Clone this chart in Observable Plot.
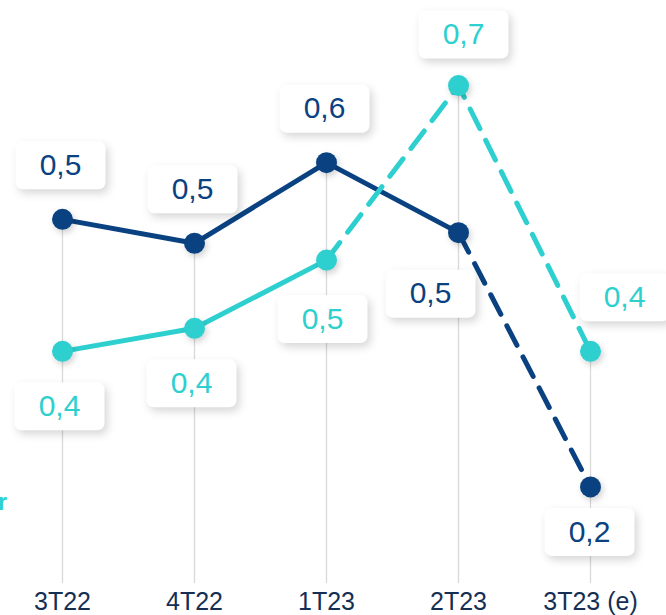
<!DOCTYPE html>
<html>
<head>
<meta charset="utf-8">
<script src="https://cdn.jsdelivr.net/npm/d3@7"></script>
<script src="https://cdn.jsdelivr.net/npm/@observablehq/plot@0.6"></script>
<style>
  html, body { margin: 0; padding: 0; background: #fff; }
  #wrap { position: relative; width: 666px; height: 615px; overflow: hidden; font-family: "Liberation Sans", Arial, sans-serif; }
  #frag { position: absolute; left: -2px; top: 489px; font-size: 23px; font-weight: bold; color: #2ecfcf; }
  g[aria-description="box"] path { filter: drop-shadow(3px 4px 4px rgba(0,0,0,0.16)); }
  g[aria-description="pts"] circle { filter: drop-shadow(2px 3px 3px rgba(0,0,0,0.18)); }
</style>
</head>
<body>
<div id="wrap"><div id="frag">r</div></div>
<script>
// ---- data ----
const quarters = ["3T22", "4T22", "1T23", "2T23", "3T23 (e)"];
const navyValues = [0.549, 0.522, 0.613, 0.534, 0.247];
const turqValues = [0.400, 0.426, 0.503, 0.700, 0.400];
const navyLabels = ["0,5", "0,5", "0,6", "0,5", "0,2"];
const turqLabels = ["0,4", "0,4", "0,5", "0,7", "0,4"];
const navyDashFrom = 3;   // index where estimated/dashed segment starts
const turqDashFrom = 2;

// ---- styling ----
const NAVY = "#0a4281", TURQ = "#2ecfcf", TICK = "#152f54", GRID = "#d9d9d9";
const yMin = 0.138, yMax = 0.796;

const rows = (vals, labels, series) => quarters.map((q, i) => ({q, v: vals[i], label: labels[i], series, i}));
const navyRows = rows(navyValues, navyLabels, "navy");
const turqRows = rows(turqValues, turqLabels, "turq");

// label placement (offsets in px relative to the point)
const place = {
  navy: i => i < 3 ? [-2, -54] : i === 3 ? [-28, 61] : [-1, 45],
  turq: i => i < 2 ? [-3, 55] : i === 2 ? [-4, 59] : i === 3 ? [5, -51] : [34, -54]
};

const roundBox = {
  draw(ctx) {
    const w = 45, h = 24, r = 7;
    ctx.moveTo(-w + r, -h);
    ctx.lineTo(w - r, -h); ctx.arcTo(w, -h, w, -h + r, r);
    ctx.lineTo(w, h - r); ctx.arcTo(w, h, w - r, h, r);
    ctx.lineTo(-w + r, h); ctx.arcTo(-w, h, -w, h - r, r);
    ctx.lineTo(-w, -h + r); ctx.arcTo(-w, -h, -w + r, -h, r);
    ctx.closePath();
  }
};

const labelMarks = [];
for (const [rs, color] of [[navyRows, NAVY], [turqRows, TURQ]]) {
  const groups = d3.group(rs, d => place[d.series](d.i).join(","));
  for (const [key, g] of groups) {
    const [dx, dy] = key.split(",").map(Number);
    labelMarks.push(Plot.dot(g, {x: "q", y: "v", symbol: roundBox, r: 10, fill: "white", stroke: "none", dx, dy, ariaDescription: "box"}));
    labelMarks.push(Plot.text(g, {x: "q", y: "v", text: "label", fill: color, fontSize: 30, fontFamily: "Liberation Sans, Arial, sans-serif", dx, dy}));
  }
}

const ruleTops = quarters.map((q, i) => ({q, top: Math.max(navyValues[i], turqValues[i])}));

const plot = Plot.plot({
  width: 666,
  height: 615,
  marginLeft: 61,
  marginRight: 75,
  marginTop: 0,
  marginBottom: 32,
  style: {fontFamily: "Liberation Sans, Arial, sans-serif", fontSize: "25px", color: TICK, background: "white", overflow: "hidden"},
  x: {type: "point", domain: quarters, padding: 0, tickSize: 0, tickPadding: 9, label: null},
  y: {domain: [yMin, yMax], axis: null},
  marks: [
    Plot.ruleX(ruleTops, {x: "q", y1: "top", y2: yMin, stroke: GRID, strokeWidth: 1.3}),
    Plot.line(navyRows.slice(0, navyDashFrom + 1), {x: "q", y: "v", stroke: NAVY, strokeWidth: 5}),
    Plot.line(navyRows.slice(navyDashFrom), {x: "q", y: "v", stroke: NAVY, strokeWidth: 5, strokeDasharray: "22,13"}),
    Plot.line(turqRows.slice(0, turqDashFrom + 1), {x: "q", y: "v", stroke: TURQ, strokeWidth: 5}),
    Plot.line(turqRows.slice(turqDashFrom), {x: "q", y: "v", stroke: TURQ, strokeWidth: 5, strokeDasharray: "22,13"}),
    Plot.dot(navyRows, {x: "q", y: "v", r: 10.5, fill: NAVY, stroke: "none", ariaDescription: "pts"}),
    Plot.dot(turqRows, {x: "q", y: "v", r: 10.5, fill: TURQ, stroke: "none", ariaDescription: "pts"}),
    ...labelMarks
  ]
});
document.getElementById("wrap").prepend(plot);
</script>
</body>
</html>
